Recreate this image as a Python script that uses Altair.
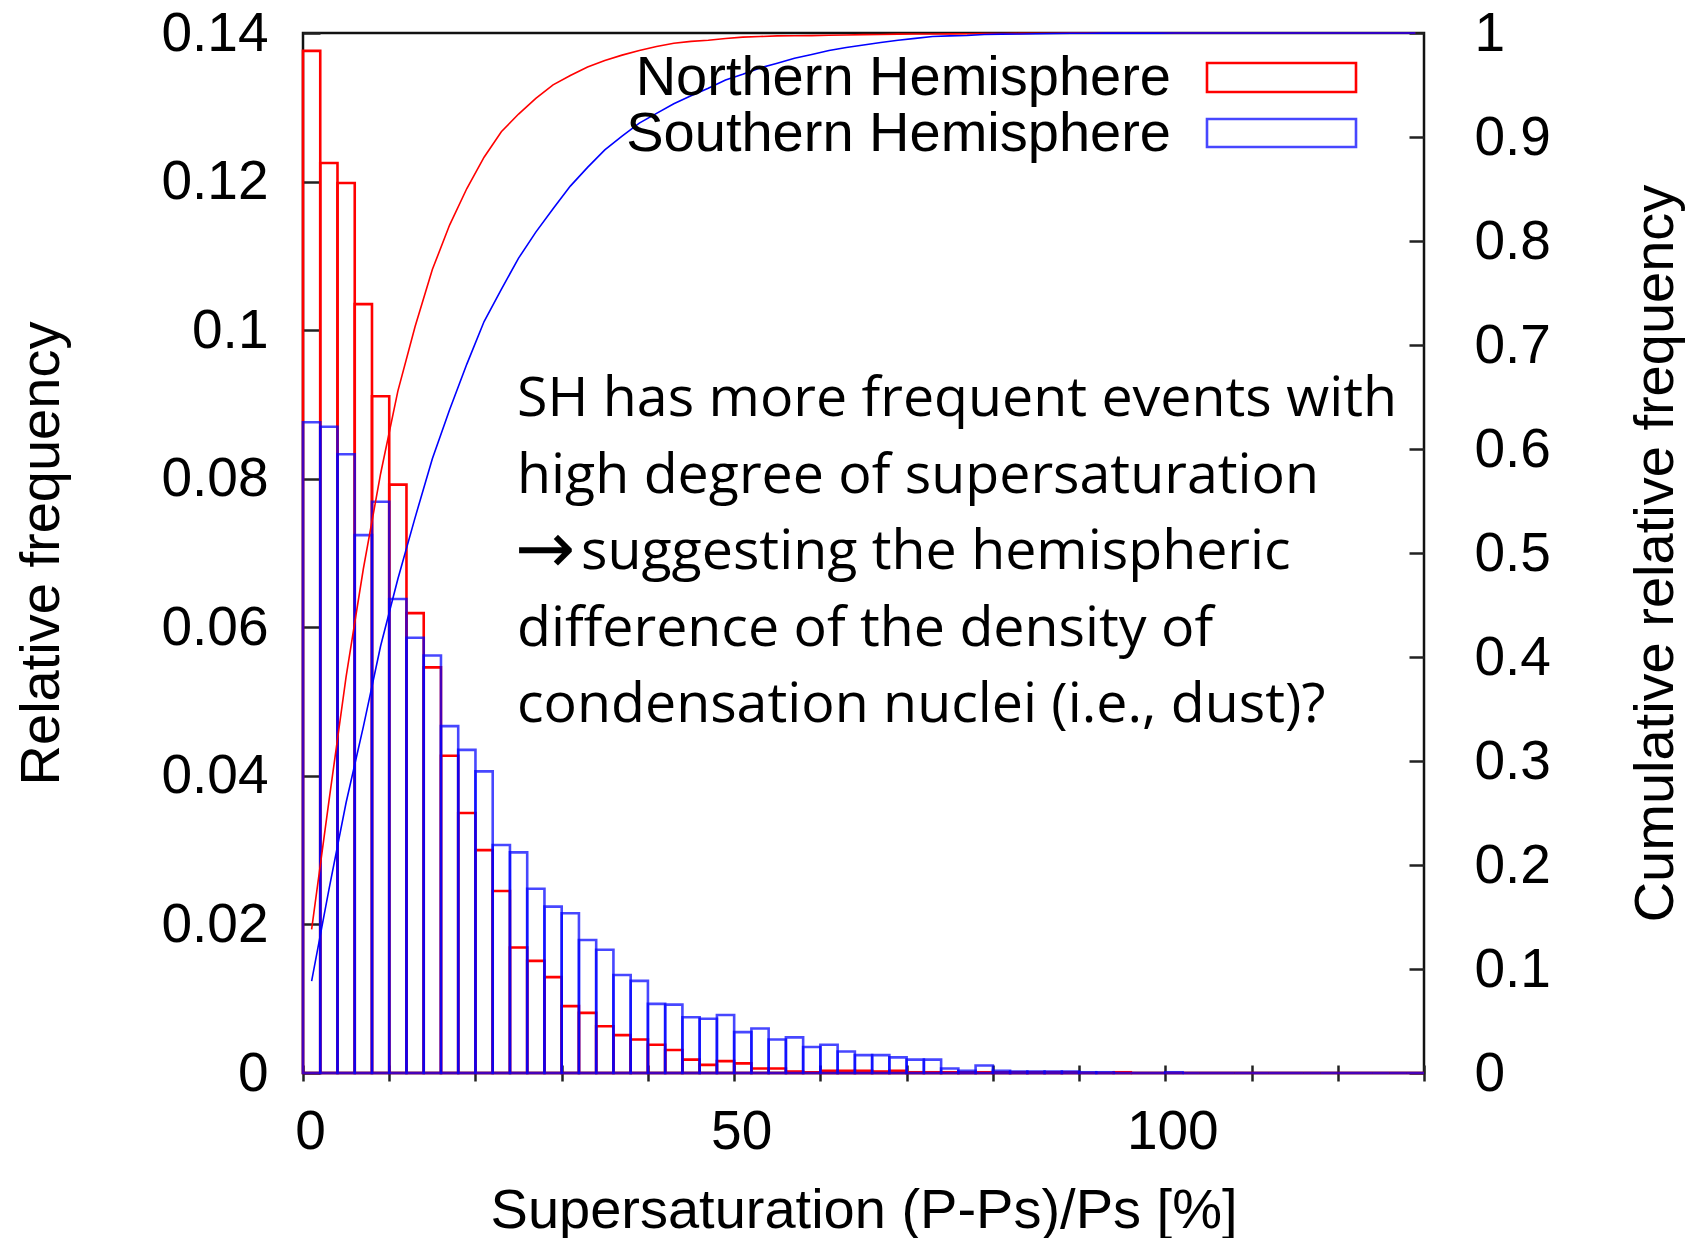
import altair as alt
import pandas as pd

# ---------------- data ----------------
SERIES = ["Northern Hemisphere", "Southern Hemisphere"]
COLORS = ["#ff0000", "#0000ff"]
BIN_WIDTH = 2
BIN_START = list(range(0, 130, 2))  # 65 bins, 0..130 %

NH = [0.1376, 0.1225, 0.1198, 0.1035, 0.0911, 0.0792, 0.0619, 0.0546, 0.0427, 0.0350,
      0.0300, 0.0245, 0.0169, 0.0151, 0.0129, 0.0090, 0.0081, 0.0063, 0.0051, 0.0045,
      0.0038, 0.0031, 0.0018, 0.0011, 0.0016, 0.0013, 0.0006, 0.0006, 0.0002, 0.0001,
      0.0003, 0.0003, 0.0003, 0.0002, 0.0003, 0.0001, 0.0001, 0.0001, 0.0001, 0.0001,
      0.0001, 0.0001, 0.0001, 0.0001, 0.0001, 0.0, 0.0, 0.0001, 0.0, 0.0,
      0.0, 0.0, 0.0, 0.0, 0.0, 0.0, 0.0, 0.0, 0.0, 0.0,
      0.0, 0.0, 0.0, 0.0, 0.0]

SH = [0.0876, 0.0870, 0.0833, 0.0724, 0.0769, 0.0638, 0.0586, 0.0562, 0.0467, 0.0435,
      0.0406, 0.0307, 0.0297, 0.0248, 0.0224, 0.0215, 0.0179, 0.0166, 0.0132, 0.0124,
      0.0093, 0.0092, 0.0075, 0.0073, 0.0078, 0.0055, 0.0060, 0.0045, 0.0048, 0.0035,
      0.0038, 0.0029, 0.0024, 0.0024, 0.0021, 0.0018, 0.0018, 0.0006, 0.0003, 0.0010,
      0.0003, 0.0002, 0.0002, 0.0002, 0.0002, 0.0001, 0.0001, 0.0, 0.0, 0.0,
      0.0001, 0.0, 0.0, 0.0, 0.0, 0.0, 0.0, 0.0, 0.0, 0.0,
      0.0, 0.0, 0.0, 0.0, 0.0]

Y_LEFT_TICKS = [0, 0.02, 0.04, 0.06, 0.08, 0.1, 0.12, 0.14]
Y_RIGHT_TICKS = [0, 0.1, 0.2, 0.3, 0.4, 0.5, 0.6, 0.7, 0.8, 0.9, 1]
X_TICKS = [0, 10, 20, 30, 40, 50, 60, 70, 80, 90, 100, 110, 120, 130]

ARROW = "\u2192"
ANNOTATION = [
    "SH has more frequent events with",
    "high degree of supersaturation",
    "suggesting the hemispheric",      # preceded by the arrow
    "difference of the density of",
    "condensation nuclei (i.e., dust)?",
]

rows = []
for name, vals in zip(SERIES, [NH, SH]):
    for s, v in zip(BIN_START, vals):
        rows.append({"series": name, "start": s, "end": s + BIN_WIDTH,
                     "center": s + BIN_WIDTH / 2, "value": v})
df = pd.DataFrame(rows)

W, H = 1121, 1040

# ---------------- scales & axes ----------------
x_scale = alt.Scale(domain=[0, 130], nice=False, zero=False)
x_axis = alt.Axis(title="Supersaturation (P-Ps)/Ps [%]", values=X_TICKS,
                  labelExpr="datum.value % 50 === 0 ? datum.label : ''",
                  offset=-8, tickSize=16, domain=False, labelPadding=24,
                  labelOffset=7, labelFlush=False, labelOverlap=False,
                  titlePadding=24, grid=False)

yl_scale = alt.Scale(domain=[0, 0.14], nice=False)
yl_axis = alt.Axis(title="Relative frequency", values=Y_LEFT_TICKS, format="~g",
                   offset=-17, tickSize=17, domain=False, labelPadding=35,
                   labelFlush=False, titlePadding=90, grid=False)

yr_scale = alt.Scale(domain=[0, 1], nice=False)
yr_axis = alt.Axis(title="Cumulative relative frequency", orient="right",
                   values=Y_RIGHT_TICKS, format="~g", offset=-15, tickSize=15,
                   domain=False, labelPadding=50, labelFlush=False,
                   titlePadding=78, titleAngle=270, titleBaseline="top", grid=False)


def bars(name, color, opacity):
    return alt.Chart(df).transform_filter(alt.datum.series == name).mark_rect(
        filled=False, stroke=color, strokeWidth=2.6, strokeOpacity=opacity
    ).encode(
        x=alt.X("start:Q", scale=x_scale, axis=x_axis),
        x2="end:Q",
        y=alt.Y("value:Q", scale=yl_scale, axis=yl_axis),
        y2=alt.datum(0),
    )


left = alt.layer(bars(SERIES[0], COLORS[0], 1.0), bars(SERIES[1], COLORS[1], 0.72))

# cumulative relative frequency = running sum / total, per series
lines = alt.Chart(df).transform_joinaggregate(
    total="sum(value)", groupby=["series"]
).transform_window(
    run="sum(value)", groupby=["series"], sort=[alt.SortField("start")], frame=[None, 0]
).transform_calculate(
    cum="datum.run / datum.total"
).mark_line(strokeWidth=1.6).encode(
    x=alt.X("center:Q", scale=x_scale, axis=x_axis),
    y=alt.Y("cum:Q", scale=yr_scale, axis=yr_axis),
    color=alt.Color("series:N", scale=alt.Scale(domain=SERIES, range=COLORS), legend=None),
    detail="series:N",
)

# manual legend (label left, box right, as in the original)
legend_layers = []
legend_y = [(62, 30, 59), (117.5, 86, 114)]
legend_op = [1.0, 0.72]
for i, name in enumerate(SERIES):
    ly, y0, y1 = legend_y[i]
    ldf = pd.DataFrame({"label": [name]})
    legend_layers.append(
        alt.Chart(ldf).mark_text(align="right", baseline="alphabetic",
                                 font="Liberation Sans", fontSize=56, color="#000").encode(
            x=alt.value(868), y=alt.value(ly), text="label:N"))
    legend_layers.append(
        alt.Chart(ldf).mark_rect(filled=False, stroke=COLORS[i], strokeWidth=2.6,
                                 strokeOpacity=legend_op[i]).encode(
            x=alt.value(904), x2=alt.value(1053), y=alt.value(y0), y2=alt.value(y1)))

# annotation text, one line per mark
ann_layers = []
ANN_X, ANN_Y0, ANN_LH = 214, 383, 76.6
for i, line in enumerate(ANNOTATION):
    adf = pd.DataFrame({"t": [line]})
    xpos = ANN_X + 64 if i == 2 else ANN_X
    ann_layers.append(
        alt.Chart(adf).mark_text(align="left", baseline="alphabetic", font="Open Sans",
                                 fontSize=55.5, color="#000").encode(
            x=alt.value(xpos), y=alt.value(ANN_Y0 + i * ANN_LH), text="t:N"))
arrow_df = pd.DataFrame({"t": [ARROW]})
ann_layers.append(
    alt.Chart(arrow_df).mark_text(align="left", baseline="alphabetic", font="DejaVu Sans",
                                  fontSize=72, color="#000").encode(
        x=alt.value(ANN_X - 2), y=alt.value(ANN_Y0 + 2 * ANN_LH + 4), text="t:N"))

right = alt.layer(lines, *legend_layers, *ann_layers)

chart = alt.layer(left, right).resolve_scale(y="independent").properties(
    width=W, height=H,
    autosize=alt.AutoSizeParams(type="none"),
    padding={"left": 295, "top": 25, "right": 265, "bottom": 165},
).configure_axis(
    labelFont="Liberation Sans", labelFontSize=55, labelColor="#000",
    titleFont="Liberation Sans", titleFontSize=56, titleFontWeight="normal",
    titleColor="#000", tickColor="#222", tickWidth=2.5,
).configure_view(stroke="#111", strokeWidth=2.5)

chart.save("out.html", embed_options={"renderer": "svg", "actions": False})
